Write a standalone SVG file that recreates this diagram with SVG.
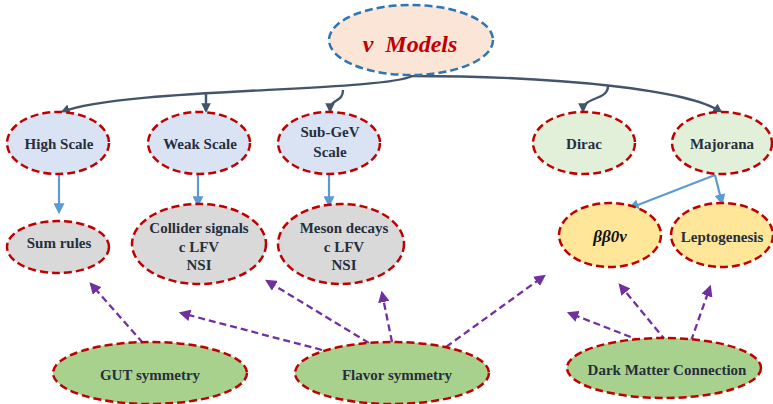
<svg xmlns="http://www.w3.org/2000/svg" width="773" height="404" viewBox="0 0 773 404">
<style>
.n{stroke:#c00000;stroke-width:2.5;stroke-dasharray:8 4}
.t{font-family:"Liberation Serif","Times New Roman",serif;font-weight:bold;font-size:15px;fill:#262f3d;text-anchor:middle}
.blue{fill:#dae3f3}.green{fill:#e2f0d9}.gray{fill:#d9d9d9}.yel{fill:#ffe699}.dg{fill:#a9d18e}
.c{fill:none;stroke:#44546a;stroke-width:2.4}
.b{fill:none;stroke:#5b9bd5;stroke-width:2.2}
.p{fill:none;stroke:#7030a0;stroke-width:2.3;stroke-dasharray:7 4}
</style>
<defs>
<marker id="ac" viewBox="0 0 10 10" refX="8" refY="5" markerWidth="4" markerHeight="4" orient="auto"><path d="M0,0 L10,5 L0,10 Z" fill="#44546a"/></marker>
<marker id="ab" viewBox="0 0 10 10" refX="8" refY="5" markerWidth="5" markerHeight="5" orient="auto"><path d="M0,0 L10,5 L0,10 Z" fill="#5b9bd5"/></marker>
<marker id="ap" viewBox="0 0 10 10" refX="8" refY="5" markerWidth="5" markerHeight="5" orient="auto"><path d="M0,0 L10,5 L0,10 Z" fill="#7030a0"/></marker>
</defs>
<g id="connectors">
<path class="c" d="M412 76 C380 92,120 88,62 112" marker-end="url(#ac)"/>
<path class="c" d="M410 76 C560 76,690 90,721 112" marker-end="url(#ac)"/>
<path class="c" d="M206 94 L206 111" marker-end="url(#ac)"/>
<path class="c" d="M343 90 C343 103,330 98,330 111" marker-end="url(#ac)"/>
<path class="c" d="M608 86 C608 101,583 96,583 111" marker-end="url(#ac)"/>
<path class="b" d="M59 175 L59 212" marker-end="url(#ab)"/>
<path class="b" d="M198 175 L198 205" marker-end="url(#ab)"/>
<path class="b" d="M329 175 L329 205" marker-end="url(#ab)"/>
<path class="b" d="M715 175 L630 208" marker-end="url(#ab)"/>
<path class="b" d="M715 175 L722 203" marker-end="url(#ab)"/>
<path class="p" d="M143 343 L91 284" marker-end="url(#ap)"/>
<path class="p" d="M322 350 L181 313" marker-end="url(#ap)"/>
<path class="p" d="M369 343 L267 281" marker-end="url(#ap)"/>
<path class="p" d="M392 342 L382 293" marker-end="url(#ap)"/>
<path class="p" d="M446 347 L544 276" marker-end="url(#ap)"/>
<path class="p" d="M641 341 L569 313" marker-end="url(#ap)"/>
<path class="p" d="M666 341 L620 285" marker-end="url(#ap)"/>
<path class="p" d="M691 341 L710 287" marker-end="url(#ap)"/>
</g>
<g id="nu-models">
<ellipse cx="411" cy="40" rx="82" ry="35" fill="#fbe5d6" stroke="#2e75b6" stroke-width="2.5" stroke-dasharray="8 4"/>
<text x="410" y="52" style="font-family:'Liberation Serif','Times New Roman',serif;font-weight:bold;font-style:italic;font-size:24px;fill:#c00000" text-anchor="middle">ν<tspan dx="12">Models</tspan></text>
</g>
<g id="high-scale"><ellipse class="n blue" cx="58" cy="143" rx="51" ry="31"/><text class="t" x="59" y="149">High Scale</text></g>
<g id="weak-scale"><ellipse class="n blue" cx="199" cy="143" rx="51" ry="31"/><text class="t" x="200" y="149">Weak Scale</text></g>
<g id="sub-gev-scale"><ellipse class="n blue" cx="329" cy="143" rx="51" ry="31"/><text class="t" x="330" y="137">Sub-GeV</text><text class="t" x="330" y="157">Scale</text></g>
<g id="dirac"><ellipse class="n green" cx="584" cy="143" rx="51" ry="31"/><text class="t" x="584" y="149">Dirac</text></g>
<g id="majorana"><ellipse class="n green" cx="722" cy="143" rx="50" ry="31"/><text class="t" x="722" y="149">Majorana</text></g>
<g id="sum-rules"><ellipse class="n gray" cx="58" cy="247" rx="51" ry="26"/><text class="t" x="59" y="248">Sum rules</text></g>
<g id="collider"><ellipse class="n gray" cx="199" cy="244" rx="67" ry="40"/><text class="t" x="199" y="233">Collider signals</text><text class="t" x="199" y="252">c LFV</text><text class="t" x="199" y="270">NSI</text></g>
<g id="meson"><ellipse class="n gray" cx="341" cy="244" rx="63" ry="40"/><text class="t" x="344" y="233">Meson decays</text><text class="t" x="344" y="252">c LFV</text><text class="t" x="344" y="270">NSI</text></g>
<g id="bb0v"><ellipse class="n yel" cx="610" cy="235" rx="51" ry="32"/><text class="t" x="610" y="242" style="font-style:italic;font-size:17px;fill:#111">ββ0ν</text></g>
<g id="leptogenesis"><ellipse class="n yel" cx="722" cy="235" rx="51" ry="32"/><text class="t" x="722" y="242">Leptogenesis</text></g>
<g id="gut"><ellipse class="n dg" cx="150" cy="373" rx="97" ry="31"/><text class="t" x="150" y="380">GUT symmetry</text></g>
<g id="flavor"><ellipse class="n dg" cx="392" cy="373" rx="97" ry="31"/><text class="t" x="397" y="380">Flavor symmetry</text></g>
<g id="dark-matter"><ellipse class="n dg" cx="664" cy="368" rx="97" ry="30"/><text class="t" x="667" y="375">Dark Matter Connection</text></g>
</svg>
